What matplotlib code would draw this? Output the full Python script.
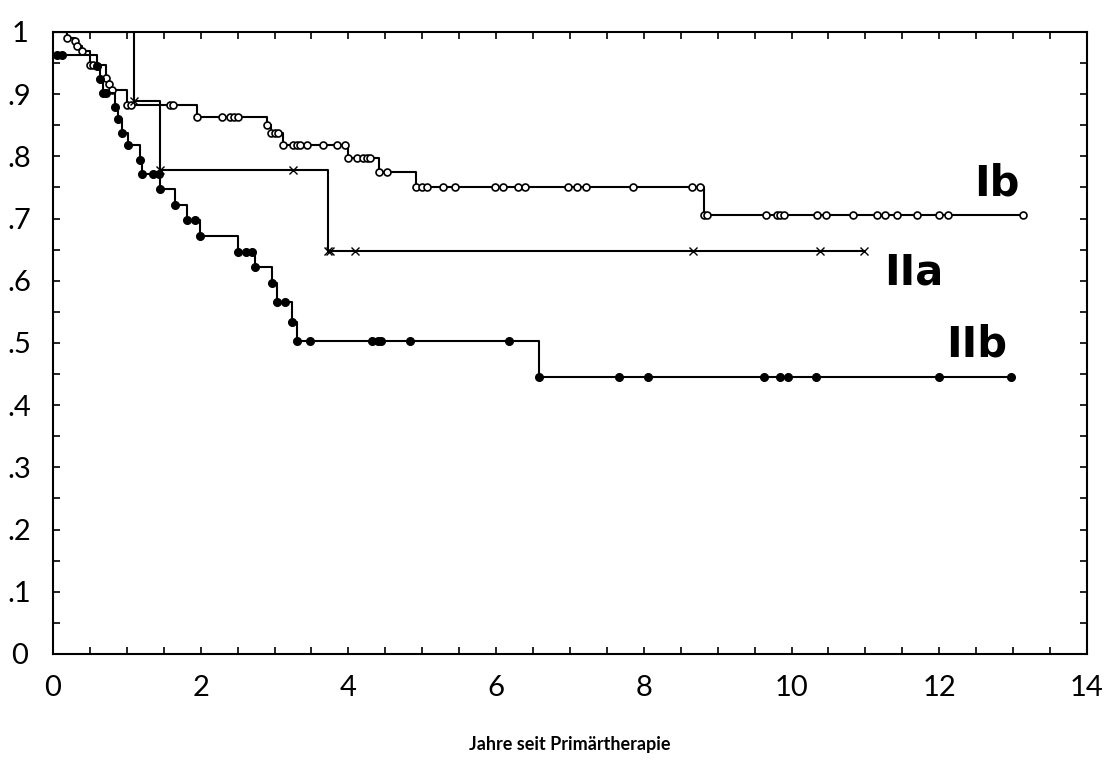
import matplotlib
matplotlib.use("Agg")
import matplotlib.pyplot as plt
import numpy as np
from matplotlib.ticker import MultipleLocator, FixedLocator

# Kaplan-Meier Kurven
# Ib - offene Kreise
ib_start = 1.0
ib_event_t = [0.19, 0.30, 0.33, 0.39, 0.50, 0.72, 0.76, 0.80, 1.00, 1.95, 2.90, 2.95, 3.12, 4.00, 4.42, 4.92, 8.81]
ib_event_s = [0.990, 0.985, 0.978, 0.970, 0.947, 0.926, 0.917, 0.907, 0.883, 0.863, 0.850, 0.838, 0.818, 0.797, 0.775, 0.750, 0.705]
ib_cens_t = [0.54, 1.05, 1.58, 1.62, 2.29, 2.40, 2.45, 2.50, 3.00, 3.05, 3.25, 3.30, 3.35, 3.44,
             3.65, 3.84, 3.95, 4.11, 4.20, 4.25, 4.29, 4.52, 5.00, 5.06, 5.28, 5.44, 5.98, 6.09,
             6.29, 6.39, 6.97, 7.09, 7.22, 7.85, 8.65, 8.76, 8.85, 9.66, 9.80, 9.85, 9.90, 10.35,
             10.47, 10.83, 11.16, 11.26, 11.43, 11.70, 12.00, 12.12, 13.13]

# IIa - Kreuze
iia_start = 1.0
iia_event_t = [1.10, 1.45, 3.72]
iia_event_s = [0.889, 0.778, 0.648]
iia_cens_t = [3.25, 3.75, 4.09, 8.66, 10.38, 10.98]

# IIb - gefüllte Kreise
iib_start = 0.963
iib_event_t = [0.60, 0.63, 0.68, 0.84, 0.88, 0.93, 1.02, 1.18, 1.20, 1.45, 1.65, 1.81, 1.99,
               2.50, 2.73, 2.96, 3.03, 3.23, 3.30, 6.58]
iib_event_s = [0.945, 0.925, 0.902, 0.880, 0.860, 0.838, 0.818, 0.794, 0.772, 0.747, 0.722,
               0.698, 0.672, 0.646, 0.622, 0.596, 0.566, 0.534, 0.503, 0.445]
iib_cens_t = [0.05, 0.12, 0.72, 1.36, 1.43, 1.92, 2.62, 2.70, 3.14, 3.48, 4.32, 4.40, 4.44,
              4.84, 6.17, 7.66, 8.05, 9.63, 9.84, 9.95, 10.33, 12.00, 12.97]

y_ticks = [0, 0.1, 0.2, 0.3, 0.4, 0.5, 0.6, 0.7, 0.8, 0.9, 1.0]
y_ticklabels = ["0", ".1", ".2", ".3", ".4", ".5", ".6", ".7", ".8", ".9", "1"]
x_ticks = [0, 2, 4, 6, 8, 10, 12, 14]

group_labels = ["Ib", "IIa", "IIb"]
label_pos = [(12.78, 0.757), (11.66, 0.614), (12.5, 0.498)]

plt.rcParams['font.family'] = ['Lato', 'DejaVu Sans']


def draw_km(ax, start, ev_t, ev_s, cens_t, marker, ms, mfc, mew):
    ev_t = np.asarray(ev_t)
    ev_s = np.asarray(ev_s)
    end = max(max(cens_t), ev_t.max())
    xs = np.concatenate([[0], ev_t, [end]])
    ys = np.concatenate([[start], ev_s, [ev_s[-1]]])
    ax.step(xs, ys, where='post', color='black', lw=1.5)
    obs = np.sort(np.concatenate([ev_t, cens_t]))
    idx = np.searchsorted(ev_t, obs, side='right') - 1
    s_obs = np.where(idx >= 0, ev_s[np.clip(idx, 0, None)], start)
    ax.plot(obs, s_obs, ls='none', marker=marker, ms=ms, mfc=mfc,
            mec='black', mew=mew, color='black')


fig = plt.figure(figsize=(11.04, 7.6), dpi=100, facecolor='white')
ax = fig.add_axes([0.048, 0.1395, 0.9366, 0.8185])

draw_km(ax, ib_start, ib_event_t, ib_event_s, ib_cens_t, 'o', 5, 'white', 1.2)
draw_km(ax, iia_start, iia_event_t, iia_event_s, iia_cens_t, 'x', 6, 'black', 1.0)
draw_km(ax, iib_start, iib_event_t, iib_event_s, iib_cens_t, 'o', 5.5, 'black', 1.0)

for txt, (lx, ly) in zip(group_labels, label_pos):
    ax.text(lx, ly, txt, fontsize=30, fontweight='bold', ha='center', va='center',
            family=['DejaVu Sans'])

ax.set_xlim(0, 14)
ax.set_ylim(0, 1)
ax.xaxis.set_major_locator(FixedLocator(x_ticks))
ax.xaxis.set_minor_locator(MultipleLocator(0.5))
ax.yaxis.set_major_locator(FixedLocator(y_ticks))
ax.yaxis.set_minor_locator(MultipleLocator(0.05))
ax.set_yticklabels(y_ticklabels)

for sp in ax.spines.values():
    sp.set_linewidth(1.5)

ax.tick_params(which='both', direction='in', top=True, right=True, length=5, width=1.2)
ax.tick_params(axis='x', which='major', labelsize=21, pad=15)
ax.tick_params(axis='y', which='major', labelsize=21, pad=24)
for lab in ax.get_yticklabels():
    lab.set_horizontalalignment('center')

ax.set_xlabel("Jahre seit Primärtherapie", fontsize=13, fontweight='bold', labelpad=25)

fig.savefig("out.png", dpi=100, facecolor='white')
